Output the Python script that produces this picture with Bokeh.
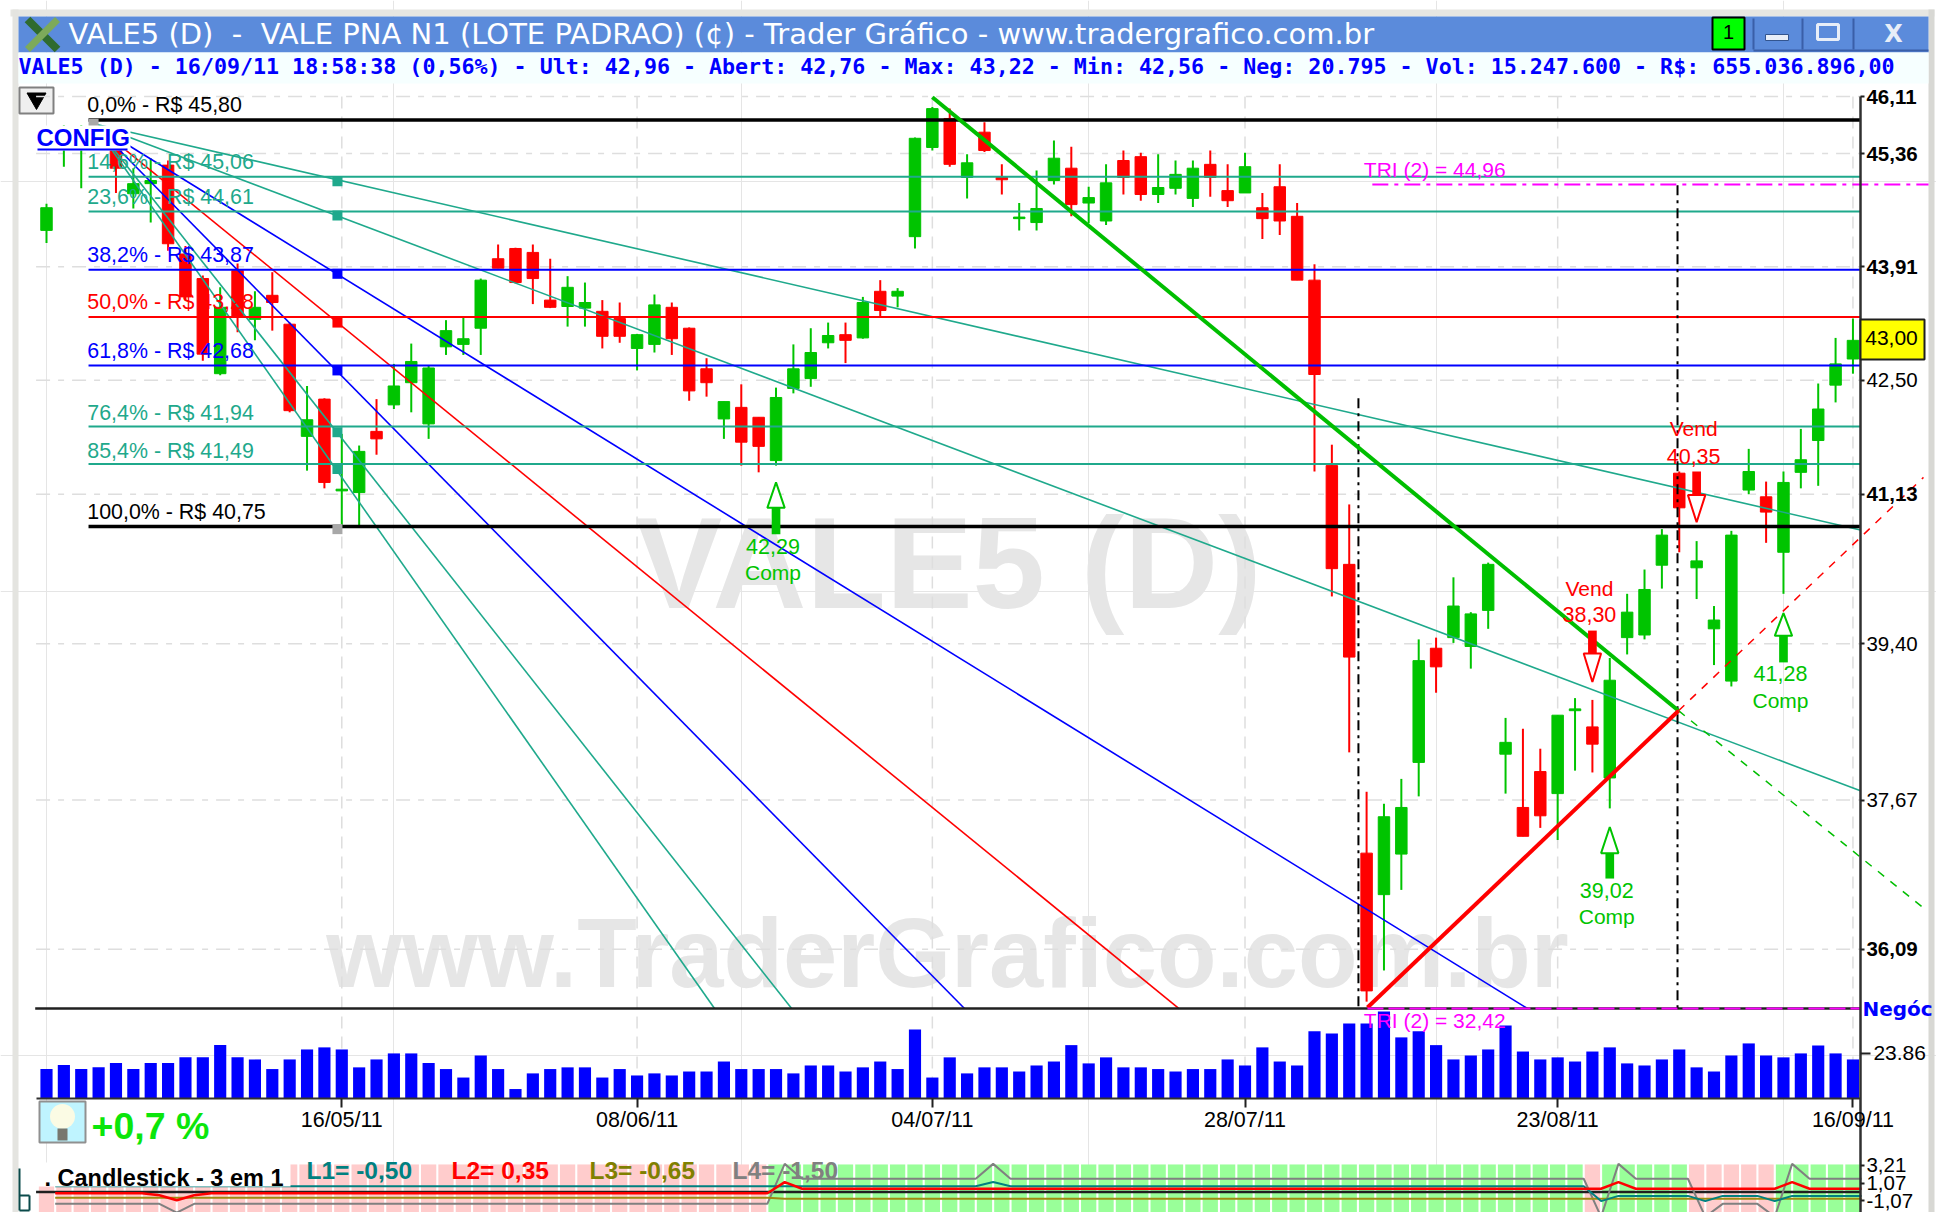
from bokeh.plotting import figure
from bokeh.embed import file_html
from bokeh.resources import INLINE
from bokeh.core.properties import value
from bokeh.models import Range1d, LinearScale, LogAxis, LinearAxis, FixedTicker

# ---------- data ----------
opens = [44.37,45.44,45.47,45.60,45.40,44.84,44.97,45.21,44.07,43.76,42.58,43.86,43.25,43.55,43.19,41.82,42.27,41.17,41.15,41.88,
 42.20,42.47,41.97,42.91,42.94,43.14,44.01,44.14,44.09,43.49,43.41,43.39,43.35,43.26,42.89,42.94,43.40,43.14,42.64,42.03,
 42.17,42.05,41.53,42.40,42.52,42.96,43.06,43.02,43.60,43.54,44.29,45.44,45.82,45.05,45.64,45.05,44.52,44.47,45.01,45.17,
 44.72,44.49,45.27,45.32,44.83,44.91,44.78,45.22,44.88,44.85,44.66,44.93,44.55,43.74,41.47,40.31,37.10,36.66,37.09,38.08,
 39.35,39.47,39.37,39.78,38.17,37.59,37.98,37.74,38.65,38.47,37.91,39.47,39.50,40.30,41.38,40.27,39.57,38.98,41.18,41.10,
 40.45,41.39,41.77,42.44,42.76]
highs = [44.71,45.73,45.73,45.73,45.47,45.17,45.30,45.27,44.17,43.80,43.65,43.95,43.60,43.84,43.21,42.43,42.28,41.85,41.71,42.27,
 42.70,42.95,42.68,43.24,43.28,43.76,44.19,44.15,44.19,44.01,43.79,43.71,43.49,43.46,43.07,43.56,43.46,43.15,42.77,42.24,
 42.45,42.05,42.41,42.94,43.14,43.21,43.21,43.53,43.74,43.64,45.57,45.97,45.95,45.35,45.77,45.22,44.72,45.14,45.53,45.45,
 44.93,45.22,45.40,45.37,45.35,45.27,45.27,45.40,45.22,45.37,44.85,45.22,44.72,43.94,41.72,41.01,37.76,37.63,37.90,39.45,
 39.47,40.16,39.76,40.33,38.57,38.45,38.23,38.60,38.79,38.77,39.24,39.97,40.25,40.72,41.40,40.58,39.83,40.70,41.67,41.28,
 41.40,41.91,42.46,43.02,43.26]
lows = [44.21,45.19,44.91,45.43,44.85,44.65,44.47,44.11,43.49,42.74,42.56,43.09,42.99,43.11,42.11,41.41,41.20,40.75,40.74,41.60,
 42.15,42.11,41.79,42.81,42.81,42.81,43.89,43.70,43.44,43.39,43.16,43.16,42.89,42.96,42.62,42.84,42.81,42.25,42.30,41.79,
 41.47,41.39,41.47,42.34,42.42,42.89,42.71,43.01,43.28,43.40,44.14,45.40,45.19,44.78,45.38,44.83,44.37,44.37,44.96,44.55,
 44.46,44.44,44.83,44.75,44.72,44.83,44.67,44.80,44.67,44.85,44.26,44.31,43.74,41.40,39.94,38.19,35.55,35.87,36.71,37.71,
 38.85,39.41,39.12,39.57,37.74,37.28,37.37,37.24,37.99,37.97,37.58,39.28,39.45,40.03,40.45,39.91,39.16,38.92,41.13,40.56,
 39.97,41.20,41.23,42.23,42.58]
closes = [44.66,45.60,45.66,45.48,45.17,44.97,45.01,44.20,43.53,42.82,43.40,43.28,43.40,43.46,42.13,42.02,41.27,41.19,41.64,41.79,
 42.43,42.73,42.65,43.11,43.01,43.74,43.89,43.71,43.76,43.40,43.65,43.46,43.04,43.04,43.06,43.43,43.01,42.37,42.47,42.24,
 41.75,41.70,42.29,42.64,42.84,43.05,42.99,43.46,43.36,43.60,45.56,45.95,45.22,45.24,45.40,45.02,44.54,44.65,45.30,44.70,
 44.79,44.98,45.05,44.83,44.92,45.09,45.17,45.05,44.75,45.19,44.52,44.49,43.74,42.57,40.26,39.25,35.66,37.49,37.59,39.21,
 39.14,39.83,39.74,40.31,38.30,37.28,37.50,38.60,38.67,38.28,38.99,39.76,40.02,40.65,40.97,40.35,39.67,40.65,41.40,40.92,
 41.27,41.54,42.15,42.70,42.99]
negocios = [15.6,17.7,15.6,16.5,18.8,15.6,18.8,18.8,21.8,21.8,28.3,21.8,20.7,15.6,20.7,26.0,27.1,26.0,16.5,20.7,
 23.9,23.9,18.8,15.6,11.1,22.8,15.6,5.0,13.3,15.6,16.5,16.5,11.1,15.6,12.2,13.3,12.2,14.3,14.3,19.6,
 15.6,15.6,15.6,13.3,17.5,17.5,14.3,16.5,19.6,15.6,36.6,11.1,21.8,13.3,16.5,16.5,14.3,17.5,19.6,28.3,
 18.6,21.8,16.5,16.5,15.6,14.3,15.6,15.6,20.7,17.5,27.1,19.6,17.5,35.6,34.5,39.8,39.8,46.2,32.4,35.6,
 28.3,20.7,22.8,26.0,38.7,24.9,20.7,21.8,19.6,24.9,27.1,18.6,17.5,20.7,26.0,16.5,14.3,22.8,29.2,22.8,
 21.8,23.9,28.1,23.9,20.7]
l1 = [0.7]*54 + [1.2] + [0.7]*34 + [-1.1] + [-0.47]*5 + [-1.1] + [-0.47]*3 + [-1.1] + [-0.47]*5
l2 = [-0.15]*6 + [-0.4,-1.0,-0.4] + [-0.15]*33 + [1.2] + [0.39]*47 + [1.2] + [0.39]*9 + [1.2] + [0.39]*4
l3 = [-0.7]*42 + [-0.82]*63
l4 = [-1.43]*7 + [-2.5] + [-1.43]*34 + [3.4] + [1.6]*11 + [3.4] + [1.6]*34 + [-3.0,3.4] + [1.6]*4 + [-3.0] + [-1.43]*3 + [-3.0,3.4] + [1.6]*4
regime = ["p"]*42 + ["g"]*47 + ["p"] + ["g"]*5 + ["p"]*5 + ["g"]*5

date_idx = [17, 34, 51, 69, 87, 104]
date_labels = ["16/05/11", "08/06/11", "04/07/11", "28/07/11", "23/08/11", "16/09/11"]
bold_ticks = [46.11, 45.36, 43.91, 41.13, 36.09]
bold_labels = ["46,11", "45,36", "43,91", "41,13", "36,09"]
reg_ticks = [42.50, 39.40, 37.67]
reg_labels = ["42,50", "39,40", "37,67"]

fib_prices = [45.80, 45.06, 44.61, 43.87, 43.28, 42.68, 41.94, 41.49, 40.75]
fib_labels = ["0,0% - R$ 45,80", "14,6% - R$ 45,06", "23,6% - R$ 44,61", "38,2% - R$ 43,87", "50,0% - R$ 43,28",
              "61,8% - R$ 42,68", "76,4% - R$ 41,94", "85,4% - R$ 41,49", "100,0% - R$ 40,75"]
fib_label_offset = [-15, -15, -15, -15, -15, -15, -13, -13, -15]
TEAL = "#1FA98C"
fib_colors = ["#000000", TEAL, TEAL, "#0000FF", "#FF0000", "#0000FF", TEAL, TEAL, "#000000"]
fib_widths = [3.5, 2, 2, 2, 2, 2, 2, 2, 3.5]

fan_origin = (2.71, 45.75)
fan_end_idx = [104.43, 104.43, 85.26, 65.2, 52.85, 42.9, 38.46]
fan_end_price = [40.71, 37.77, 35.48, 35.48, 35.48, 35.48, 35.48]
fan_colors = [TEAL, TEAL, "#0000FF", "#FF0000", "#0000FF", TEAL, TEAL]
fan_mark_idx = 16.75
fan_mark_price = [45.00, 44.56, 43.82, 43.21, 42.62, 41.87, 41.43, 40.72]
fan_mark_colors = [TEAL, TEAL, "#0000FF", "#FF0000", "#0000FF", TEAL, TEAL, "#A8A8A8"]

buy_idx = [42, 90, 100]
buy_tip = [41.27, 37.38, 39.75]
buy_base = [40.97, 37.10, 39.49]
buy_tail = [40.66, 36.83, 39.19]
buy_num_y = [40.52, 36.70, 39.06]
buy_word_y = [40.21, 36.43, 38.76]
buy_text = ["42,29", "39,02", "41,28"]
sell_idx = [89, 95]
sell_tail = [39.55, 41.40]
sell_base = [39.29, 41.12]
sell_tip = [38.97, 40.80]
sell_word_y = [40.03, 41.91]
sell_num_y = [39.73, 41.58]
sell_text = ["38,30", "40,35"]

title = "VALE5 (D)\u00a0\u00a0-\u00a0\u00a0VALE PNA N1 (LOTE PADRAO) (\u00a2) - Trader Gr\u00e1fico - www.tradergrafico.com.br"
quote = "VALE5 (D) - 16/09/11 18:58:38 (0,56%) - Ult: 42,96 - Abert: 42,76 - Max: 43,22 - Min: 42,56 - Neg: 20.795 - Vol: 15.247.600 - R$: 655.036.896,00"

# ---------- scales ----------
idx = list(range(len(opens)))
AX = 104.43
BOT = 35.48
p = figure(width=1936, height=1212, output_backend="svg", toolbar_location=None,
           x_range=Range1d(-2.648, 108.81), y_range=Range1d(33.46, 47.40), y_axis_type="log",
           x_axis_location=None, y_axis_location=None, min_border=0,
           min_border_left=0, min_border_right=0, min_border_top=0, min_border_bottom=0,
           outline_line_color=None, background_fill_color="white", border_fill_color="white")
p.extra_x_ranges = {"px": Range1d(0, 1936)}
p.extra_x_scales = {"px": LinearScale()}
p.extra_y_ranges = {"px": Range1d(1212, 0), "vol": Range1d(-60.5, 582.5), "osc": Range1d(-2.479, 144.07)}
p.extra_y_scales = {"px": LinearScale(), "vol": LinearScale(), "osc": LinearScale()}
PX = dict(x_range_name="px", y_range_name="px")
ARIAL = value("Liberation Sans")

def txt(x, y, s, size, color="black", font="Liberation Sans", style="normal", align="left", **kw):
    p.text(x=[x], y=[y], text=[s], text_font=value(font), text_font_size=f"{size}px", text_font_style=style,
           text_color=color, text_align=align, text_baseline="middle", **kw)

def pxrect(x0, x1, y0, y1, fill, line=None, lw=1):
    p.quad(left=[x0], right=[x1], top=[y0], bottom=[y1], fill_color=fill, line_color=line, line_width=lw, **PX)

# ---------- window chrome ----------
pxrect(10, 1934, 9, 16, "#E6E6E2")
pxrect(12, 18, 9, 1212, "#E4E4E0")
pxrect(1928, 1934, 9, 1212, "#D8D8D4")
pxrect(18, 1928, 16, 52, "#5B8BDB")
pxrect(18, 1928, 52, 83, "#F6FFFF")
p.segment(x0=[27], y0=[19], x1=[57], y1=[49], line_color="#2F6B2F", line_width=8, **PX)
p.segment(x0=[57], y0=[19], x1=[27], y1=[49], line_color="#7DAA5A", line_width=7, **PX)
txt(68, 33, title, 29, "white", "DejaVu Sans", **PX)
txt(18, 66, quote, 21.65, "#0000FF", "DejaVu Sans Mono", "bold", **PX)
pxrect(1712, 1744, 17, 49, "#00FF00", "#000000", 2)
txt(1728, 31, "1", 20, "black", "Liberation Sans", align="center", **PX)
p.segment(x0=[1753, 1802, 1853], y0=[18, 18, 18], x1=[1753, 1802, 1853], y1=[49, 49, 49], line_color="#3A5FA8", line_width=2, **PX)
p.segment(x0=[1753], y0=[50], x1=[1928], y1=[50], line_color="#3A5FA8", line_width=2, **PX)
pxrect(1765, 1788, 34, 40, "#E8EEF8", "#33558F", 1)
pxrect(1817, 1838, 24, 39, "#5B8BDB", "#E8EEF8", 3)
txt(1893, 33, "X", 24, "#E8EEF8", "DejaVu Sans", "bold", align="center", **PX)
pxrect(19, 53, 87, 113, "#EFEFEF", "#808080", 2)
p.scatter(x=[36], y=[98], marker="inverted_triangle", size=19, fill_color="black", line_color="black", **PX)

# ---------- watermarks ----------
txt(948, 562, "VALE5 (D)", 130, "#E6E6E6", "Liberation Sans", "bold", "center", **PX)
txt(947, 953, "www.TraderGrafico.com.br", 97.5, "#E6E6E6", "Liberation Sans", "bold", "center", **PX)

# ---------- dashed grid ----------
grid = bold_ticks + reg_ticks
p.segment(x0=[-0.6]*len(grid), y0=grid, x1=[AX]*len(grid), y1=grid, line_color="#DEDEDE", line_width=1.5, line_dash="14 8 6 8")
p.segment(x0=date_idx, y0=[96]*6, x1=date_idx, y1=[1098]*6, line_color="#DEDEDE", line_width=1.5, line_dash="12 8", **{"y_range_name": "px"})

# ---------- lower oscillator panel ----------
col_colors = ["#FFCCCC" if r == "p" else "#99FF99" for r in regime]
p.vbar(x=idx, width=0.88, bottom=-4, top=3.33, fill_color=col_colors, line_color=None, y_range_name="osc")
oscx = [i + 0.5 for i in idx]
p.segment(x0=[-0.6], y0=[0], x1=[AX], y1=[0], line_color="#202020", line_width=2.5, y_range_name="osc")
p.line(oscx, l4, line_color="#808080", line_width=2, y_range_name="osc")
p.line(oscx, l3, line_color="#A08A10", line_width=2, y_range_name="osc")
p.line(oscx, l1, line_color="#008080", line_width=2, y_range_name="osc")
p.line(oscx, l2, line_color="#FF0000", line_width=2.5, y_range_name="osc")
pxrect(30, 290, 1162, 1186, "white")
txt(44, 1177, ". Candlestick - 3 em 1", 23.5, "black", "Liberation Sans", "bold", **PX)
txt(306, 1170, "L1= -0,50", 24.5, "#008080", style="bold", **PX)
txt(451, 1170, "L2= 0,35", 24.5, "#FF0000", style="bold", **PX)
txt(589, 1170, "L3= -0,65", 24.5, "#808000", style="bold", **PX)
txt(732, 1170, "L4= -1,50", 24.5, "#808080", style="bold", **PX)
p.segment(x0=[19, 19, 29, 19], y0=[1168, 1195, 1195, 1210], x1=[19, 29, 29, 29], y1=[1210, 1195, 1210, 1210], line_color="#0A4A4A", line_width=2, **PX)

# ---------- volume ----------
p.vbar(x=idx, width=0.7, bottom=0, top=negocios, fill_color="#0000FF", line_color=None, y_range_name="vol")
pxrect(39, 85, 1101, 1142, "#BFF4FF", "#909090", 2)
p.scatter(x=[62], y=[1116], marker="circle", size=25, fill_color="#FBFBE4", line_color=None, **PX)
pxrect(57, 67, 1128, 1140, "#77776F")
txt(91, 1125, "+0,7 %", 37.5, "#0BE60B", "Liberation Sans", "bold", **PX)

# ---------- candles ----------
colors = ["#00C400" if c >= o else "#FF0000" for o, c in zip(opens, closes)]
p.segment(x0=idx, y0=lows, x1=idx, y1=highs, line_color=colors, line_width=2)
p.vbar(x=idx, width=0.66, bottom=opens, top=closes, fill_color=colors, line_color=colors, line_width=1)

# ---------- Fibonacci fan and levels ----------
p.segment(x0=[fan_origin[0]]*7, y0=[fan_origin[1]]*7, x1=fan_end_idx, y1=fan_end_price, line_color=fan_colors, line_width=1.6)
p.segment(x0=[2.42]*9, y0=fib_prices, x1=[AX]*9, y1=fib_prices, line_color=fib_colors, line_width=fib_widths)
p.text(x=[2.35]*9, y=fib_prices, text=fib_labels, text_color=fib_colors, text_font=ARIAL, text_font_size="21.4px",
       text_baseline="middle", y_offset=fib_label_offset)
p.scatter(x=[fan_mark_idx]*8, y=fan_mark_price, marker="square", size=10, fill_color=fan_mark_colors, line_color=None)
p.scatter(x=[fan_origin[0]], y=[fan_origin[1]], marker="square", size=10, fill_color="#A8A8A8", line_color=None)

# ---------- panel frame ----------
p.segment(x0=[-0.65], y0=[BOT], x1=[AX], y1=[BOT], line_color="#202020", line_width=2.5)

# ---------- triangle drawing ----------
p.segment(x0=[75.53, 93.9], y0=[42.28, 44.95], x1=[75.53, 93.9], y1=[BOT, BOT], line_color="black", line_width=2, line_dash="10 5 3 5")
p.line([51.0, 93.96], [46.10, 38.65], line_color="#00BE00", line_width=4)
p.line([93.96, 108.06], [38.65, 36.52], line_color="#00BE00", line_width=1.5, line_dash="8 8")
p.line([76.05, 93.96], [35.49, 38.65], line_color="#FF0000", line_width=4)
p.line([93.96, 108.06], [38.65, 41.33], line_color="#FF0000", line_width=1.5, line_dash="8 8")
p.line([76.33, 108.35], [44.96, 44.96], line_color="#FF00FF", line_width=2, line_dash="16 6 4 6")
p.line([76.05, 104.43], [BOT, BOT], line_color="#FF00FF", line_width=2, line_dash="16 5")
txt(75.84, 44.96, "TRI (2) = 44,96", 21, "#FF00FF", y_offset=-15)
txt(75.84, BOT, "TRI (2) = 32,42", 21, "#FF00FF", y_offset=12)

# ---------- buy and sell signals ----------
p.vbar(x=buy_idx, width=0.5, bottom=buy_tail, top=buy_base, fill_color="#00C400", line_color=None)
p.patches(xs=[[i, i - 0.5, i + 0.5] for i in buy_idx], ys=[[t, b, b] for t, b in zip(buy_tip, buy_base)],
          fill_color="white", line_color="#00C400", line_width=2)
p.text(x=buy_idx, y=buy_num_y, text=buy_text, text_color="#00C400", text_font=ARIAL, text_font_size="21.5px", text_align="center", text_baseline="middle", x_offset=-3)
p.text(x=buy_idx, y=buy_word_y, text=["Comp"]*3, text_color="#00C400", text_font=ARIAL, text_font_size="21px", text_align="center", text_baseline="middle", x_offset=-3)
p.vbar(x=sell_idx, width=0.5, bottom=sell_base, top=sell_tail, fill_color="#FF0000", line_color=None)
p.patches(xs=[[i, i - 0.5, i + 0.5] for i in sell_idx], ys=[[t, b, b] for t, b in zip(sell_tip, sell_base)],
          fill_color="white", line_color="#FF0000", line_width=2)
p.text(x=sell_idx, y=sell_word_y, text=["Vend"]*2, text_color="#FF0000", text_font=ARIAL, text_font_size="21px", text_align="center", text_baseline="middle", x_offset=-3)
p.text(x=sell_idx, y=sell_num_y, text=sell_text, text_color="#FF0000", text_font=ARIAL, text_font_size="21.5px", text_align="center", text_baseline="middle", x_offset=-3)

# ---------- CONFIG box ----------
pxrect(35, 130, 125, 150, "white")
txt(36, 137, "CONFIG", 24, "#0000FF", "Liberation Sans", "bold", **PX)
p.segment(x0=[37], y0=[149], x1=[127], y1=[149], line_color="#0000FF", line_width=2, **PX)

# ---------- axes ----------
p.segment(x0=[1860], y0=[96], x1=[1860], y1=[1212], line_color="#303030", line_width=2.5, **PX)

def style(ax, bold=False, size=20.5):
    ax.axis_line_color = None
    ax.major_tick_line_color = "#202020"
    ax.major_tick_line_width = 2
    ax.major_tick_in = 0
    ax.major_tick_out = 4
    ax.minor_tick_line_color = None
    ax.major_label_text_font = "Liberation Sans"
    ax.major_label_text_font_size = f"{size}px"
    ax.major_label_text_font_style = "bold" if bold else "normal"
    ax.major_label_text_color = "black"
    ax.major_label_standoff = 2

for ticks, labels, bold in ((bold_ticks, bold_labels, True), (reg_ticks, reg_labels, False)):
    ax = LogAxis(fixed_location=AX, ticker=FixedTicker(ticks=ticks), major_label_overrides=dict(zip(ticks, labels)))
    style(ax, bold)
    p.add_layout(ax, "right")

ax = LinearAxis(fixed_location=AX, y_range_name="vol", ticker=FixedTicker(ticks=[23.86]), major_label_overrides={23.86: "23.86"})
style(ax, size=21)
ax.major_tick_out = 10
ax.major_label_standoff = 3
p.add_layout(ax, "right")

ax = LinearAxis(fixed_location=AX, y_range_name="osc", ticker=FixedTicker(ticks=[3.21, 1.07, -1.07]),
                major_label_overrides={3.21: "3,21", 1.07: "1,07", -1.07: "-1,07"})
style(ax)
p.add_layout(ax, "right")

ax = LinearAxis(fixed_location=0, y_range_name="vol", ticker=FixedTicker(ticks=date_idx),
                major_label_overrides=dict(zip(date_idx, date_labels)), bounds=(-0.6, AX))
style(ax, size=21.5)
ax.axis_line_color = "#303030"
ax.axis_line_width = 2
ax.major_tick_out = 9
ax.major_label_standoff = 1
p.add_layout(ax, "below")

# ---------- last price tag ----------
pxrect(1860, 1924, 319, 359, "#FFFF00", "#202020", 2)
txt(1891, 337, "43,00", 21, "black", align="center", **PX)
txt(1862, 1008, "Neg\u00f3c", 20, "#0000FF", "DejaVu Sans", "bold", **PX)

open("out.html", "w").write(file_html(p, INLINE))
